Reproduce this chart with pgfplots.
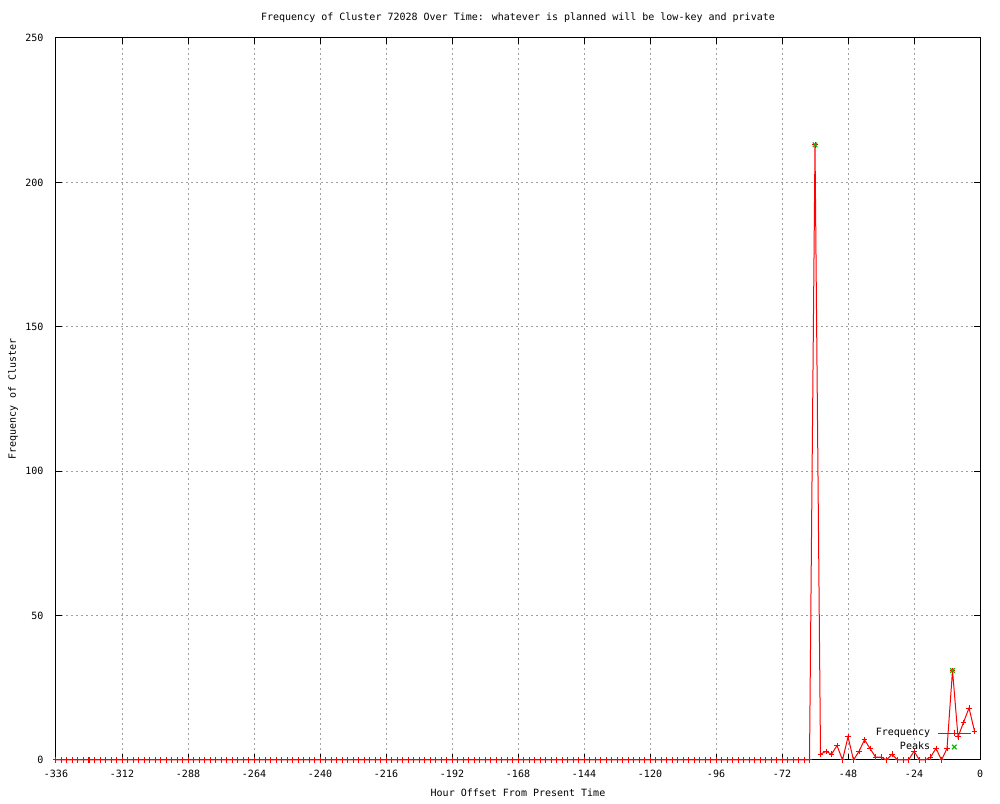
\documentclass[border=0pt]{standalone}
\usepackage{pgfplots}
\pgfplotsset{compat=1.18}
\usepackage{fontspec}
\setmainfont{DejaVu Sans Mono}
\definecolor{gpred}{RGB}{255,0,0}
\definecolor{gpgreen}{RGB}{0,192,0}
\definecolor{gpgrid}{RGB}{160,160,160}
\begin{document}
\begin{tikzpicture}[font=\fontsize{5}{6}\selectfont]
\fill[white] (-28pt,-20pt) rectangle (472pt,380pt);
\begin{axis}[
  at={(0,0)}, anchor=south west,
  scale only axis, width=462pt, height=361pt,
  xmin=-336, xmax=0, ymin=0, ymax=250,
  xtick={-336,-312,...,0}, ytick={0,50,...,250},
  grid=major,
  major grid style={gpgrid, dash pattern=on 1pt off 1.5pt, line width=0.5pt},
  tick align=inside, major tick length=3pt,
  axis line style={black, line width=0.5pt},
  every tick/.style={black, line width=0.5pt},
  /pgf/number format/assume math mode=true,
  title={Frequency of Cluster 72028 Over Time: whatever is planned will be low-key and private},
  title style={at={(axis description cs:0.5,1.0277)}, anchor=center, yshift=-6pt},
  xlabel={Hour Offset From Present Time},
  xlabel style={at={(axis description cs:0.5,-0.0457)}, anchor=center},
  ylabel={Frequency of Cluster},
  ylabel style={at={(axis description cs:-0.0465,0.5)}, anchor=center},
  xticklabel style={anchor=north, yshift=-1.5pt},
  yticklabel style={anchor=east, xshift=-2.8pt},
  legend cell align=right,
  legend plot pos=right,
  legend style={draw=none, fill=none, at={(rel axis cs:0.9975,0.052)}, anchor=north east,
    row sep=0.5pt, column sep=3pt, nodes={inner sep=0.6pt}},
  legend image code/.code={\draw[mark repeat=2,mark phase=2] plot coordinates {(0cm,0cm) (0.29cm,0cm) (0.58cm,0cm)};},
  clip=false,
]
\addplot[gpred, line width=0.5pt, mark=+, mark size=1.4pt, mark options={solid}] coordinates {
(-336,0) (-334,0) (-332,0) (-330,0) (-328,0) (-326,0) (-324,0) (-322,0) (-320,0) (-318,0)
(-316,0) (-314,0) (-312,0) (-310,0) (-308,0) (-306,0) (-304,0) (-302,0) (-300,0) (-298,0)
(-296,0) (-294,0) (-292,0) (-290,0) (-288,0) (-286,0) (-284,0) (-282,0) (-280,0) (-278,0)
(-276,0) (-274,0) (-272,0) (-270,0) (-268,0) (-266,0) (-264,0) (-262,0) (-260,0) (-258,0)
(-256,0) (-254,0) (-252,0) (-250,0) (-248,0) (-246,0) (-244,0) (-242,0) (-240,0) (-238,0)
(-236,0) (-234,0) (-232,0) (-230,0) (-228,0) (-226,0) (-224,0) (-222,0) (-220,0) (-218,0)
(-216,0) (-214,0) (-212,0) (-210,0) (-208,0) (-206,0) (-204,0) (-202,0) (-200,0) (-198,0)
(-196,0) (-194,0) (-192,0) (-190,0) (-188,0) (-186,0) (-184,0) (-182,0) (-180,0) (-178,0)
(-176,0) (-174,0) (-172,0) (-170,0) (-168,0) (-166,0) (-164,0) (-162,0) (-160,0) (-158,0)
(-156,0) (-154,0) (-152,0) (-150,0) (-148,0) (-146,0) (-144,0) (-142,0) (-140,0) (-138,0)
(-136,0) (-134,0) (-132,0) (-130,0) (-128,0) (-126,0) (-124,0) (-122,0) (-120,0) (-118,0)
(-116,0) (-114,0) (-112,0) (-110,0) (-108,0) (-106,0) (-104,0) (-102,0) (-100,0) (-98,0)
(-96,0) (-94,0) (-92,0) (-90,0) (-88,0) (-86,0) (-84,0) (-82,0) (-80,0) (-78,0)
(-76,0) (-74,0) (-72,0) (-70,0) (-68,0) (-66,0) (-64,0) (-62,0)
(-60,213) (-58,2) (-56,3) (-54,2) (-52,5) (-50,0) (-48,8) (-46,0) (-44,3) (-42,7)
(-40,4) (-38,1) (-36,1) (-34,0) (-32,2) (-30,0) (-28,0) (-26,0) (-24,3) (-22,0)
(-20,0) (-18,1) (-16,4) (-14,0) (-12,4) (-10,31) (-8,8) (-6,13) (-4,18) (-2,10)
};
\addlegendentry{Frequency}
\addplot[only marks, gpgreen, line width=0.6pt, mark=x, mark size=1.6pt] coordinates {
(-60,213) (-10,31)
};
\addlegendentry{Peaks}
\end{axis}
\end{tikzpicture}
\end{document}
